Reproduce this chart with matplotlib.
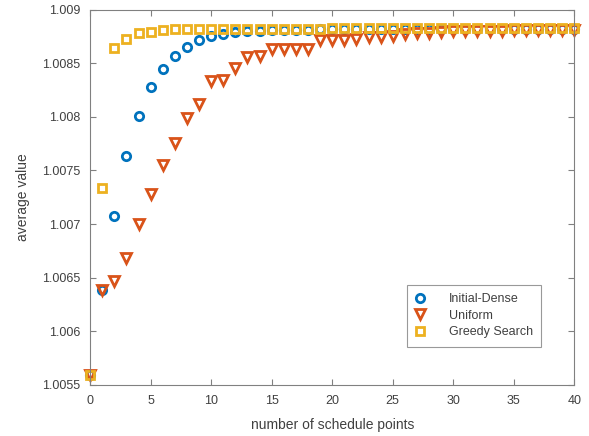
import matplotlib
matplotlib.use("Agg")
import matplotlib.pyplot as plt

# number of schedule points
x = list(range(41))

# average value per method
initial_dense = [1.005593, 1.006388, 1.007079, 1.007631, 1.008005, 1.008276, 1.008444,
                 1.008565, 1.008650, 1.008715, 1.008752, 1.008771, 1.008790, 1.008799,
                 1.008805, 1.008808, 1.008810, 1.008812, 1.008814, 1.008815, 1.008816,
                 1.008817, 1.008818, 1.008818, 1.008819, 1.008819, 1.008820, 1.008820,
                 1.008820, 1.008821, 1.008821, 1.008821, 1.008822, 1.008822, 1.008822,
                 1.008822, 1.008822, 1.008823, 1.008823, 1.008823, 1.008823]
uniform = [1.005593, 1.006388, 1.006472, 1.006687, 1.007000, 1.007285, 1.007547,
           1.007752, 1.007986, 1.008117, 1.008332, 1.008341, 1.008453, 1.008556,
           1.008565, 1.008631, 1.008631, 1.008631, 1.008631, 1.008715, 1.008715,
           1.008715, 1.008724, 1.008743, 1.008743, 1.008752, 1.008771, 1.008780,
           1.008780, 1.008795, 1.008799, 1.008800, 1.008802, 1.008804, 1.008805,
           1.008806, 1.008807, 1.008808, 1.008809, 1.008810, 1.008812]
greedy = [1.005593, 1.007341, 1.008640, 1.008724, 1.008780, 1.008790, 1.008808,
          1.008815, 1.008818, 1.008820, 1.008821, 1.008821, 1.008822, 1.008822,
          1.008822, 1.008823, 1.008823, 1.008823, 1.008823, 1.008823, 1.008824,
          1.008824, 1.008824, 1.008824, 1.008824, 1.008824, 1.008824, 1.008824,
          1.008824, 1.008824, 1.008824, 1.008824, 1.008824, 1.008824, 1.008824,
          1.008824, 1.008824, 1.008824, 1.008824, 1.008824, 1.008824]

xticks = [0, 5, 10, 15, 20, 25, 30, 35, 40]
yticks = [1.0055, 1.006, 1.0065, 1.007, 1.0075, 1.008, 1.0085, 1.009]
ylabels = ["1.0055", "1.006", "1.0065", "1.007", "1.0075", "1.008", "1.0085", "1.009"]

plt.rcParams['font.family'] = ['Liberation Sans', 'DejaVu Sans']
plt.rcParams['font.size'] = 9

fig = plt.figure(figsize=(5.89, 4.36), dpi=100)
ax = fig.add_axes([0.153, 0.117, 0.822, 0.861])

ax.plot(x, initial_dense, linestyle="none", marker="o", ms=6, mfc="none",
        mec="#0072BD", mew=2, label="Initial-Dense", clip_on=False)
ax.plot(x, uniform, linestyle="none", marker="v", ms=7, mfc="none",
        mec="#D95319", mew=2, label="Uniform", clip_on=False)
ax.plot(x, greedy, linestyle="none", marker="s", ms=5.5, mfc="none",
        mec="#EDB120", mew=2, label="Greedy Search", clip_on=False)

ax.set_xlim(0, 40)
ax.set_ylim(1.0055, 1.009)
ax.set_xticks(xticks)
ax.set_yticks(yticks)
ax.set_yticklabels(ylabels)

grey = "#404040"
for s in ax.spines.values():
    s.set_color("#808080")
    s.set_linewidth(0.8)
ax.tick_params(direction="in", top=True, right=True, length=4, color="#808080",
               labelcolor=grey, labelsize=9, pad=7)

ax.set_xlabel("number of schedule points", color=grey, fontsize=10, labelpad=8)
ax.set_ylabel("average value", color=grey, fontsize=10, labelpad=9)

leg = ax.legend(loc="lower right", bbox_to_anchor=(0.945, 0.085), fancybox=False,
                edgecolor="#808080", fontsize=9, handletextpad=2.0,
                borderpad=0.7, labelspacing=0.35, markerscale=1.0,
                handlelength=0.6)
leg.get_frame().set_linewidth(0.8)
for t in leg.get_texts():
    t.set_color(grey)

fig.savefig("out.png", dpi=100)
